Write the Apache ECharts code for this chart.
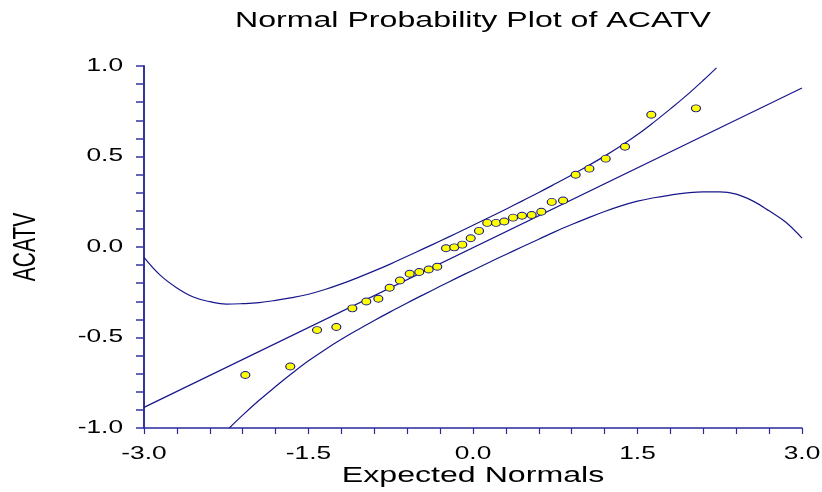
<!DOCTYPE html>
<html>
<head>
<meta charset="utf-8">
<script src="https://cdn.jsdelivr.net/npm/echarts@6/dist/echarts.min.js"></script>
<style>
html,body{margin:0;padding:0;background:#fff;}
#chart{width:822px;height:492px;}
</style>
</head>
<body>
<div id="chart"></div>
<script>
// expected normal scores (x) and ACATV values (y)
var expNormals = [-2.076,-1.666,-1.422,-1.246,-1.100,-0.973,-0.863,-0.760,-0.666,-0.577,-0.490,
	-0.404,-0.326,-0.246,-0.171,-0.098,-0.021,0.055,0.130,0.210,0.285,0.365,0.447,0.535,0.623,
	0.718,0.821,0.936,1.061,1.210,1.386,1.626,2.033];
var acatv = [-0.707,-0.660,-0.459,-0.442,-0.339,-0.301,-0.286,-0.225,-0.185,-0.148,-0.138,
	-0.124,-0.109,-0.007,-0.002,0.013,0.048,0.089,0.133,0.133,0.141,0.162,0.173,0.177,0.195,
	0.249,0.257,0.399,0.433,0.488,0.554,0.731,0.766];

// reference line end points
var refX = [-3.0, 3.0];
var refY = [-0.886, 0.878];

// confidence band curves
var upperX = [-3.00,-2.85,-2.70,-2.55,-2.40,-2.25,-2.10,-1.95,-1.80,-1.65,-1.50,-1.35,-1.20,-1.05,
	-0.90,-0.75,-0.60,-0.45,-0.30,-0.15,0.00,0.15,0.30,0.45,0.60,0.75,0.90,1.05,1.20,1.35,1.50,
	1.65,1.80,1.95,2.10,2.22];
var upperY = [-0.057,-0.157,-0.226,-0.276,-0.302,-0.316,-0.313,-0.307,-0.295,-0.280,-0.261,-0.235,
	-0.204,-0.169,-0.132,-0.093,-0.051,-0.009,0.033,0.076,0.120,0.164,0.209,0.255,0.301,0.349,
	0.398,0.449,0.502,0.559,0.621,0.690,0.763,0.839,0.921,0.990];
var lowerX = [-2.222,-2.10,-1.95,-1.80,-1.65,-1.50,-1.35,-1.20,-1.05,-0.90,-0.75,-0.60,-0.45,-0.30,
	-0.15,0.00,0.15,0.30,0.45,0.60,0.75,0.90,1.05,1.20,1.35,1.50,1.65,1.80,1.95,2.10,2.25,2.40,
	2.55,2.70,2.85,3.00];
var lowerY = [-1.000,-0.929,-0.847,-0.771,-0.698,-0.629,-0.567,-0.510,-0.457,-0.406,-0.357,-0.309,
	-0.263,-0.217,-0.172,-0.128,-0.084,-0.041,0.001,0.043,0.085,0.124,0.161,0.196,0.227,0.253,
	0.272,0.287,0.299,0.305,0.305,0.292,0.255,0.200,0.138,0.049];

var xTicks = [-3.0, -1.5, 0.0, 1.5, 3.0];
var xTickLabels = ['-3.0', '-1.5', '0.0', '1.5', '3.0'];
var yTicks = [-1.0, -0.5, 0.0, 0.5, 1.0];
var yTickLabels = ['-1.0', '-0.5', '0.0', '0.5', '1.0'];

var titleText = 'Normal Probability Plot of ACATV';
var xName = 'Expected Normals';
var yName = 'ACATV';

function pairs(xs, ys){
	var out = [];
	for(var i = 0; i < xs.length; i++){
		out.push([xs[i], ys[i]]);
	}
	return out;
}

var navy = '#17178a';
var stretch = 1.46; // text in the picture is drawn wide
var font = '"Liberation Sans", Arial, sans-serif';

var chart = echarts.init(document.getElementById('chart'));
chart.setOption({
	animation: false,
	backgroundColor: '#fff',
	grid: { left: 144, right: 20, top: 66, bottom: 64 },
	xAxis: {
		type: 'value', min: -3, max: 3, interval: 0.3,
		axisLine: { onZero: false, lineStyle: { color: '#2a2a9c', width: 1.5 } },
		axisTick: { show: true, length: 6, lineStyle: { color: '#2a2a9c', width: 1.2 } },
		axisLabel: { show: false },
		splitLine: { show: false }
	},
	yAxis: {
		type: 'value', min: -1, max: 1, interval: 0.1,
		axisLine: { show: true, onZero: false, lineStyle: { color: '#34349e', width: 2 } },
		axisTick: { show: true, length: 8, lineStyle: { color: '#34349e', width: 1.5 } },
		axisLabel: { show: false },
		splitLine: { show: false }
	},
	series: [
		{
			type: 'line', data: pairs(upperX, upperY), smooth: 0.4, showSymbol: false,
			lineStyle: { color: navy, width: 1.2 }, z: 2
		},
		{
			type: 'line', data: pairs(lowerX, lowerY), smooth: 0.4, showSymbol: false,
			lineStyle: { color: navy, width: 1.2 }, z: 2
		},
		{
			type: 'line', data: pairs(refX, refY), showSymbol: false,
			lineStyle: { color: navy, width: 1.2 }, z: 2
		},
		{
			type: 'scatter', data: pairs(expNormals, acatv), symbol: 'circle', symbolSize: [9, 7],
			itemStyle: { color: '#ffff00', borderColor: navy, borderWidth: 1, opacity: 1 }, z: 3
		}
	]
});

// tick labels and titles, placed from the axis scales
var g = [];
for(var i = 0; i < xTicks.length; i++){
	var p = chart.convertToPixel({ gridIndex: 0 }, [xTicks[i], -1]);
	g.push({
		type: 'text', x: p[0], y: p[1] + 26, scaleX: stretch, silent: true,
		style: { text: xTickLabels[i], fill: '#000', font: '18px ' + font, align: 'center', verticalAlign: 'middle' }
	});
}
for(var j = 0; j < yTicks.length; j++){
	var q = chart.convertToPixel({ gridIndex: 0 }, [-3, yTicks[j]]);
	g.push({
		type: 'text', x: q[0] - 21, y: q[1], scaleX: stretch, silent: true,
		style: { text: yTickLabels[j], fill: '#000', font: '18px ' + font, align: 'right', verticalAlign: 'middle' }
	});
}
var c0 = chart.convertToPixel({ gridIndex: 0 }, [0, 0]);
g.push({
	type: 'text', x: c0[0], y: 21, scaleX: stretch, silent: true,
	style: { text: titleText, fill: '#000', font: '22px ' + font, align: 'center', verticalAlign: 'middle' }
});
g.push({
	type: 'text', x: c0[0], y: 476, scaleX: stretch, silent: true,
	style: { text: xName, fill: '#000', font: '22px ' + font, align: 'center', verticalAlign: 'middle' }
});
g.push({
	type: 'text', x: 27, y: c0[1], rotation: Math.PI / 2, scaleY: stretch, silent: true,
	style: { text: yName, fill: '#000', font: '21px ' + font, align: 'center', verticalAlign: 'middle' }
});
chart.setOption({ graphic: g });
</script>
</body>
</html>
